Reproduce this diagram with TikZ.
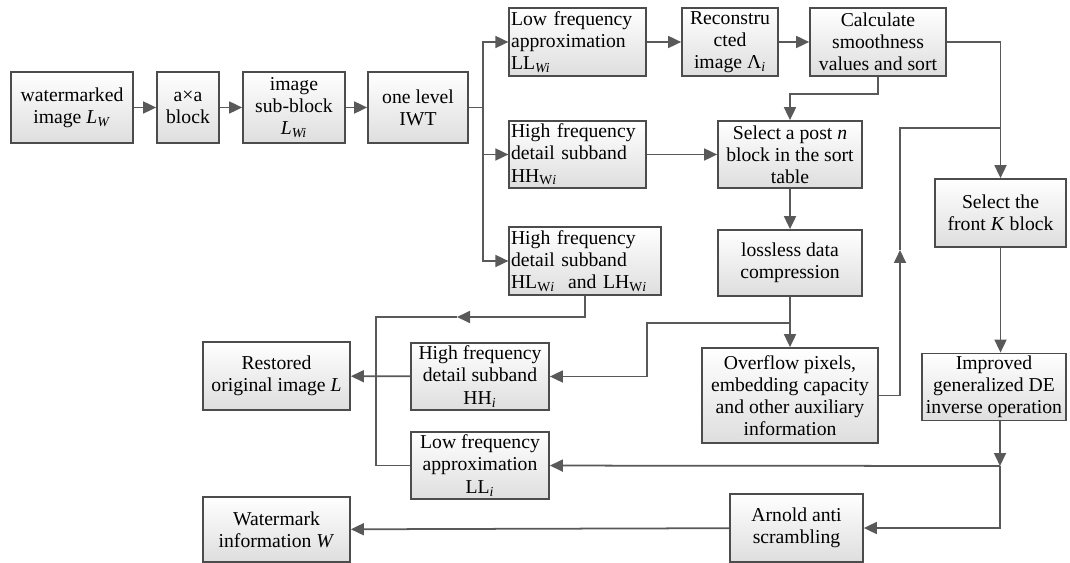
\documentclass[tikz,border=0pt]{standalone}
\usepackage{fontspec}
\setmainfont{Liberation Serif}
\usetikzlibrary{arrows.meta,positioning}

\begin{document}
\begin{tikzpicture}[
  x=0.02cm, y=-0.02cm,
  box/.style={draw=black!70, line width=1pt, top color=white, bottom color=black!13,
    align=center, minimum height=1.36cm, inner sep=1pt,
    font=\fontsize{11.2}{12.6}\selectfont},
  lbox/.style={box, align=left},
  arrow/.style={-{Triangle[length=2.6mm,width=2.4mm]}, line width=1pt, draw=black!65},
  line/.style={line width=1pt, draw=black!65}
]
\useasboundingbox (0,0) rectangle (1070,563);

% first row
\node[box, minimum width=2.44cm, minimum height=1.42cm] (wmk) at (72,107.5) {watermarked\\image \textit{L}\textsubscript{\textit{W}}};
\node[box, minimum width=1.24cm, minimum height=1.42cm] (axa) at (188,107.5) {a×a\\block};
\node[box, minimum width=2.04cm, minimum height=1.42cm] (sub) at (294,107.5) {image\\sub-block\\\textit{L}\textsubscript{\textit{Wi}}};
\node[box, minimum width=2.0cm, minimum height=1.42cm] (iwt) at (418,107.5) {one level\\IWT};

% sub-bands
\node[lbox, text width=2.66cm] (ll) at (577.5,42) {Low frequency\\approximation\\LL\textsubscript{\textit{Wi}}};
\node[lbox, text width=2.66cm, minimum height=1.34cm] (hh) at (577.5,154.5) {High frequency\\detail subband\\HH\textsubscript{W\textit{i}}};
\node[lbox, text width=2.96cm] (hl) at (585,261) {High frequency\\detail subband\\HL\textsubscript{W\textit{i}}\ \ and LH\textsubscript{W\textit{i}}};

\node[box, minimum width=1.92cm] (rec) at (730,42) {Reconstru\\cted\\image Λ\textsubscript{\textit{i}}};
\node[box, minimum width=2.72cm] (calc) at (878,42) {Calculate\\smoothness\\values and sort};
\node[box, minimum width=2.88cm, minimum height=1.34cm] (sel) at (790,154.5) {Select a post \textit{n}\\block in the sort\\table};
\node[box, minimum width=2.88cm, minimum height=1.32cm] (loss) at (790,263) {lossless data\\compression};
\node[box, minimum width=2.62cm] (selK) at (1000.5,213) {Select the\\front \textit{K} block};
\node[box, minimum width=3.52cm, minimum height=1.9cm] (over) at (790,395.5) {Overflow pixels,\\embedding capacity\\and other auxiliary\\information};
\node[box, minimum width=2.88cm, minimum height=1.34cm] (imp) at (994,387) {Improved\\generalized DE\\inverse operation};

% recovery
\node[box, minimum width=2.94cm] (rest) at (276.5,376) {Restored\\original image \textit{L}};
\node[box, minimum width=2.76cm, minimum height=1.34cm] (hhi) at (480,376.5) {High frequency\\detail subband\\HH\textsubscript{\textit{i}}};
\node[box, minimum width=2.76cm, minimum height=1.34cm] (lli) at (480,465.5) {Low frequency\\approximation\\LL\textsubscript{\textit{i}}};
\node[box, minimum width=2.66cm] (arn) at (796.5,528) {Arnold anti\\scrambling};
\node[box, minimum width=2.94cm, minimum height=1.3cm] (wm) at (276.5,529.5) {Watermark\\information \textit{W}};

\coordinate (split) at (483,107.5);
\coordinate (cdrop) at (790,94);
\coordinate (j1) at (790,323);
\coordinate (k1) at (647,323);
\coordinate (up) at (900,250);
\coordinate (j2) at (1000,128);
\coordinate (j3) at (1000,466);
\coordinate (mleft) at (457,317);
\coordinate (bus) at (376,317);

\draw[arrow] (wmk) -- (axa);
\draw[arrow] (axa) -- (sub);
\draw[arrow] (sub) -- (iwt);
\draw[line] (iwt) -- (split);
\draw[arrow] (split) |- (ll);
\draw[arrow] (split) |- (hh);
\draw[arrow] (split) |- (hl);
\draw[arrow] (ll) -- (rec);
\draw[arrow] (rec) -- (calc);
\draw[arrow] (calc) -| (selK);
\draw[arrow] (calc.south) |- (cdrop) -- (sel.north);
\draw[arrow] (hh) -- (sel);
\draw[arrow] (sel) -- (loss);
\draw[arrow] (loss) -- (over);
\draw[arrow] (j1) -- (k1) |- (hhi);
\draw[arrow] (over) -| (up);
\draw[line] (up) |- (j2);
\draw[arrow] (selK) -- (selK |- imp.north);
\draw[arrow] (imp.south -| j3) -- (j3);
\draw[arrow] (j3) -- (lli);
\draw[arrow] (j3) |- (arn);
\draw[arrow] (arn) -- (wm);
\draw[arrow] (hl.south) |- (mleft);
\draw[line] (mleft) -- (bus) |- (lli);
\draw[arrow] (hhi) -- (rest);
\end{tikzpicture}
\end{document}
